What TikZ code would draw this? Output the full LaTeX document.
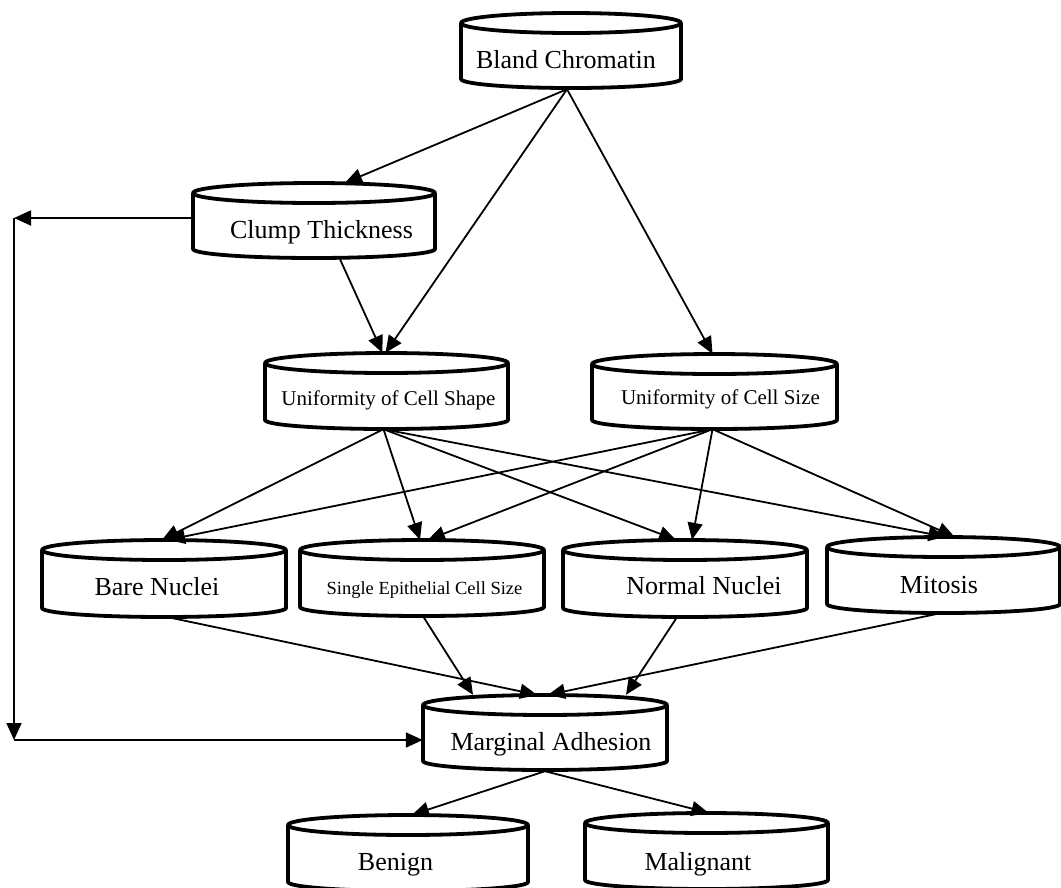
\documentclass[tikz,border=0pt]{standalone}
\usepackage{fontspec}
\setmainfont{Liberation Serif}
\usetikzlibrary{arrows.meta,calc}
\tikzset{
  cylbox/.style={draw=none, inner sep=0pt, rectangle},
  cylline/.style={line width=3.8pt, line join=round},
  lbl/.style={anchor=base, inner sep=0pt, font=\fontsize{26}{30}\selectfont},
  lblm/.style={anchor=base, inner sep=0pt, font=\fontsize{21}{25}\selectfont},
  lbls/.style={anchor=base, inner sep=0pt, font=\fontsize{18.5}{22}\selectfont},
  conn/.style={line width=1.8pt, -{Triangle[length=17pt,width=15pt]}},
}
% name, x1, y1, x2, y2
\newcommand{\cylnode}[5]{%
  \pgfmathsetmacro{\cylcx}{(#2+#4)/2}%
  \pgfmathsetmacro{\cylcy}{(#3+#5)/2}%
  \pgfmathsetmacro{\cylw}{#4-#2}%
  \pgfmathsetmacro{\cylh}{#5-#3}%
  \pgfmathsetmacro{\cylrx}{(#4-#2)/2}%
  \pgfmathsetmacro{\cylkx}{(#4-#2)/2*0.5523}%
  \node[cylbox, minimum width=\cylw pt, minimum height=\cylh pt] (#1) at (\cylcx,\cylcy) {};
  \draw[cylline] (\cylcx,#3+10) ellipse [x radius=\cylrx, y radius=10];
  \draw[cylline] (#2,#3+10) -- (#2,#5-9) .. controls (#2,#5-4) and (\cylcx-\cylkx,#5) .. (\cylcx,#5)
     .. controls (\cylcx+\cylkx,#5) and (#4,#5-4) .. (#4,#5-9) -- (#4,#3+10);
}
\begin{document}
\begin{tikzpicture}[x=1pt,y=-1pt]
\useasboundingbox (0,0) rectangle (1061,887);
\clip (0,0) rectangle (1061,887);
\fill[white] (0,0) rectangle (1061,887);

\cylnode{bland}{461}{13}{681}{88}
\cylnode{clump}{193}{183}{435}{258}
\cylnode{shape}{265}{353}{508}{429}
\cylnode{size}{592}{354}{837}{429}
\cylnode{bare}{42}{540}{286}{617}
\cylnode{single}{300}{540}{544}{616}
\cylnode{normal}{563}{540}{807}{617}
\cylnode{mitosis}{827}{537}{1060}{613}
\cylnode{marg}{423}{695}{667}{770}
\cylnode{benign}{288}{815}{528}{891}
\cylnode{malig}{585}{813}{828}{889}

\node[lbl] (bland-t) at (566,68) {Bland Chromatin};
\node[lbl] (clump-t) at (321.5,238) {Clump Thickness};
\node[lblm] (shape-t) at (388.5,405) {Uniformity of Cell Shape};
\node[lblm] (size-t) at (720.5,404) {Uniformity of Cell Size};
\node[lbl] (bare-t) at (157,595) {Bare Nuclei};
\node[lbls] (single-t) at (424.5,594) {Single Epithelial Cell Size};
\node[lbl] (normal-t) at (704,594) {Normal Nuclei};
\node[lbl] (mitosis-t) at (939,593) {Mitosis};
\node[lbl] (marg-t) at (551,750) {Marginal Adhesion};
\node[lbl] (benign-t) at (395.5,870) {Benign};
\node[lbl] (malig-t) at (698,870) {Malignant};

% from Bland Chromatin
\draw[conn] ($(bland.south)+(-4,1)$) -- ($(clump.north)+(31,0)$);
\draw[conn] ($(bland.south)+(-4,1)$) -- ($(shape.north)+(-1,0)$);
\draw[conn] ($(bland.south)+(-4,1)$) -- ($(size.north)+(-2,0)$);
% from Clump Thickness
\draw[conn] ($(clump.south)+(26,1)$) -- ($(shape.north)+(-4,0)$);
\coordinate (cornerA) at (14,218);
\coordinate (cornerB) at (14,740);
\draw[conn] (clump.west |- cornerA) -- (cornerA);
\draw[conn] (cornerA) -- (cornerB);
\draw[conn] (cornerB) -- (marg.west |- cornerB);
% from Uniformity of Cell Shape
\draw[conn] ($(shape.south)+(-3,0)$) -- ($(bare.north)+(-2,0)$);
\draw[conn] ($(shape.south)+(-3,0)$) -- ($(single.north)+(-2,0)$);
\draw[conn] ($(shape.south)+(-3,0)$) -- ($(normal.north)+(-9,0)$);
\draw[conn] ($(shape.south)+(-3,0)$) -- ($(mitosis.north)+(2,0)$);
% from Uniformity of Cell Size
\draw[conn] ($(size.south)+(-2,0)$) -- ($(bare.north)+(4,0)$);
\draw[conn] ($(size.south)+(-2,0)$) -- ($(single.north)+(6,0)$);
\draw[conn] ($(size.south)+(-2,0)$) -- ($(normal.north)+(7,0)$);
\draw[conn] ($(size.south)+(-2,0)$) -- ($(mitosis.north)+(11,0)$);
% into Marginal Adhesion
\draw[conn] ($(bare.south)+(4,0)$) -- ($(marg.north)+(-8,0)$);
\draw[conn] ($(single.south)+(1,0)$) -- ($(marg.north)+(-72,0)$);
\draw[conn] ($(normal.south)+(-8,0)$) -- ($(marg.north)+(81,0)$);
\draw[conn] ($(mitosis.south)+(-3,0)$) -- ($(marg.north)+(3,0)$);
% out of Marginal Adhesion
\draw[conn] ($(marg.south)+(0,1)$) -- ($(benign.north)+(4,0)$);
\draw[conn] ($(marg.south)+(0,1)$) -- ($(malig.north)+(2,0)$);
\end{tikzpicture}
\end{document}
